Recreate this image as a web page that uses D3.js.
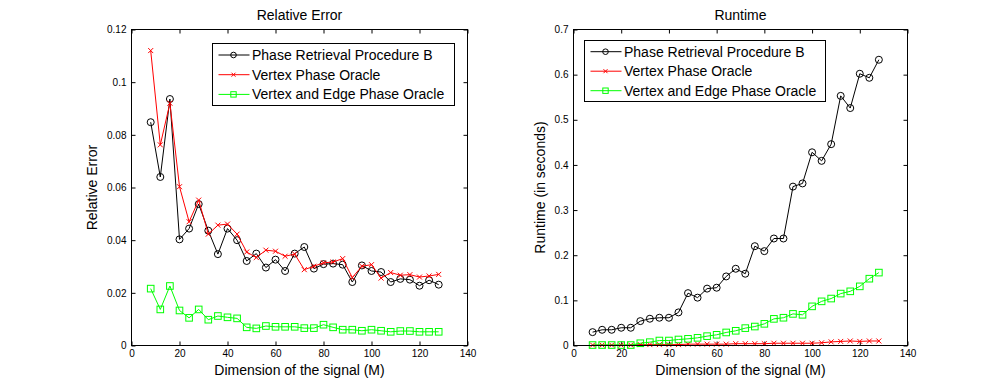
<!DOCTYPE html>
<html>
<head>
<meta charset="utf-8">
<script src="https://cdn.jsdelivr.net/npm/d3@7"></script>
<style>
  html, body { margin: 0; padding: 0; background: #fff; }
  svg { display: block; }
  text { font-family: "Liberation Sans", Arial, Helvetica, sans-serif; fill: #000; }
</style>
</head>
<body>
<svg id="chart" width="1004" height="388"></svg>
<script>
// ---- data ----
const dims = [8,12,16,20,24,28,32,36,40,44,48,52,56,60,64,68,72,76,80,84,88,92,96,100,104,108,112,116,120,124,128];

const seriesNames = ["Phase Retrieval Procedure B", "Vertex Phase Oracle", "Vertex and Edge Phase Oracle"];

const errProcB = [0.0848,0.064,0.0936,0.0403,0.0444,0.0537,0.0436,0.0347,0.0444,0.040,0.0321,0.0349,0.0296,0.0326,0.0283,0.0349,0.0374,0.0292,0.0309,0.0311,0.0307,0.0241,0.0304,0.0283,0.0279,0.0241,0.0253,0.025,0.0227,0.0248,0.0231];
const errVertex = [0.112,0.0762,0.092,0.0603,0.047,0.0552,0.0423,0.0457,0.0461,0.0423,0.0355,0.0334,0.0362,0.0358,0.0339,0.0347,0.0288,0.0301,0.0314,0.0317,0.033,0.0258,0.0301,0.0307,0.0256,0.0277,0.0267,0.0269,0.026,0.0264,0.027];
const errVertexEdge = [0.0216,0.0137,0.0226,0.0133,0.0105,0.0137,0.0098,0.0112,0.0107,0.0103,0.0069,0.0065,0.0074,0.0071,0.0071,0.0071,0.0066,0.0066,0.0079,0.0069,0.006,0.006,0.0056,0.006,0.0056,0.0052,0.0055,0.0055,0.0052,0.0052,0.0052];

const timeProcB = [0.0296,0.0348,0.0348,0.0393,0.0393,0.054,0.0593,0.0615,0.0615,0.0733,0.116,0.106,0.126,0.128,0.153,0.170,0.159,0.22,0.209,0.237,0.237,0.352,0.359,0.428,0.409,0.446,0.553,0.526,0.602,0.593,0.633];
const timeVertex = [0.001,0.001,0.001,0.001,0.001,0.002,0.002,0.002,0.002,0.002,0.003,0.003,0.003,0.003,0.003,0.004,0.004,0.004,0.004,0.005,0.005,0.005,0.005,0.005,0.006,0.008,0.009,0.010,0.009,0.010,0.010];
const timeVertexEdge = [0.001,0.001,0.001,0.001,0.001,0.005,0.0074,0.011,0.011,0.0133,0.0148,0.017,0.0207,0.0237,0.0289,0.0326,0.0385,0.042,0.048,0.059,0.0615,0.070,0.068,0.0867,0.0978,0.104,0.115,0.12,0.131,0.148,0.1615];

const xTicks = [0,20,40,60,80,100,120,140];
const errTicks = [0,0.02,0.04,0.06,0.08,0.1,0.12];
const errTickLabels = ["0","0.02","0.04","0.06","0.08","0.1","0.12"];
const timeTicks = [0,0.1,0.2,0.3,0.4,0.5,0.6,0.7];
const timeTickLabels = ["0","0.1","0.2","0.3","0.4","0.5","0.6","0.7"];

// ---- drawing ----
const svg = d3.select("#chart");
const colors = ["#000000", "#ff0000", "#00ff00"];
const markers = ["circle", "x", "square"];

function drawMarker(g, type, x, y, color, s) {
  if (type === "circle") {
    g.append("circle").attr("cx", x).attr("cy", y).attr("r", s)
      .attr("fill", "none").attr("stroke", color).attr("stroke-width", 1);
  } else if (type === "x") {
    g.append("path")
      .attr("d", `M${x - s},${y - s}L${x + s},${y + s}M${x - s},${y + s}L${x + s},${y - s}`)
      .attr("stroke", color).attr("stroke-width", 1).attr("fill", "none");
  } else {
    g.append("rect").attr("x", x - s).attr("y", y - s).attr("width", 2 * s).attr("height", 2 * s)
      .attr("fill", "none").attr("stroke", color).attr("stroke-width", 1);
  }
}

function panel(opts) {
  const { left, right, top, bottom, yMax, yTicks, yLabels, series, title, ylabel, legend } = opts;
  const x = d3.scaleLinear().domain([0, 140]).range([left, right]);
  const y = d3.scaleLinear().domain([0, yMax]).range([bottom, top]);
  const g = svg.append("g");

  // axes box
  g.append("rect").attr("x", left).attr("y", top).attr("width", right - left).attr("height", bottom - top)
    .attr("fill", "#fff").attr("stroke", "none");

  const tl = 4;
  const axB = d3.axisBottom(x).tickValues(xTicks).tickSize(-tl).tickPadding(4).tickFormat(d3.format("d"));
  const axT = d3.axisTop(x).tickValues(xTicks).tickSize(-tl).tickFormat("");
  const axL = d3.axisLeft(y).tickValues(yTicks).tickSize(-tl).tickPadding(5)
    .tickFormat((d, i) => yLabels[i]);
  const axR = d3.axisRight(y).tickValues(yTicks).tickSize(-tl).tickFormat("");

  const styleAxis = sel => {
    sel.select(".domain").remove();
    sel.selectAll("line").attr("stroke", "#000");
    sel.selectAll("text").attr("font-size", "10px").attr("fill", "#000")
      .attr("font-family", '"Liberation Sans", Arial, sans-serif');
  };
  g.append("g").attr("transform", `translate(0,${bottom})`).call(axB).call(styleAxis);
  g.append("g").attr("transform", `translate(0,${top})`).call(axT).call(styleAxis);
  g.append("g").attr("transform", `translate(${left},0)`).call(axL).call(styleAxis);
  g.append("g").attr("transform", `translate(${right},0)`).call(axR).call(styleAxis);

  // series
  const line = d3.line().x((d, i) => x(dims[i])).y(d => y(d));
  series.forEach((vals, si) => {
    const sg = g.append("g");
    sg.append("path").attr("d", line(vals)).attr("fill", "none")
      .attr("stroke", colors[si]).attr("stroke-width", 1);
    const msize = markers[si] === "circle" ? 3.5 : (markers[si] === "x" ? 2.5 : 3.3);
    vals.forEach((v, i) => drawMarker(sg, markers[si], x(dims[i]), y(v), colors[si], msize));
  });

  // frame
  g.append("rect").attr("x", left).attr("y", top).attr("width", right - left).attr("height", bottom - top)
    .attr("fill", "none").attr("stroke", "#000").attr("stroke-width", 1);

  // title & labels
  const cx = (left + right) / 2;
  g.append("text").attr("x", cx).attr("y", 20).attr("text-anchor", "middle")
    .attr("font-size", "14px").text(title);
  g.append("text").attr("x", cx).attr("y", 375).attr("text-anchor", "middle")
    .attr("font-size", "14px").text("Dimension of the signal (M)");
  g.append("text").attr("transform", `translate(${opts.ylabelX},${(top + bottom) / 2}) rotate(-90)`)
    .attr("text-anchor", "middle").attr("font-size", "14px").text(ylabel);

  // legend
  const lg = g.append("g");
  lg.append("rect").attr("x", legend.x).attr("y", legend.y).attr("width", legend.w).attr("height", legend.h)
    .attr("fill", "#fff").attr("stroke", "#000").attr("stroke-width", 1);
  seriesNames.forEach((name, si) => {
    const ly = legend.y + legend.firstRow + si * legend.rowGap;
    lg.append("line").attr("x1", legend.x + 6).attr("x2", legend.x + 37).attr("y1", ly).attr("y2", ly)
      .attr("stroke", colors[si]).attr("stroke-width", 1);
    const ms = markers[si] === "circle" ? 2.8 : (markers[si] === "x" ? 2 : 2.7);
    drawMarker(lg, markers[si], legend.x + 21, ly, colors[si], ms);
    lg.append("text").attr("x", legend.x + 39.5).attr("y", ly + 5).attr("font-size", "14px").text(name);
  });
}

panel({
  left: 131.5, right: 467.5, top: 29.5, bottom: 345.5, yMax: 0.12,
  yTicks: errTicks, yLabels: errTickLabels,
  series: [errProcB, errVertex, errVertexEdge],
  title: "Relative Error", ylabel: "Relative Error", ylabelX: 97,
  legend: { x: 212.5, y: 43.5, w: 242, h: 62, firstRow: 11.5, rowGap: 19.7 }
});

panel({
  left: 573.5, right: 907.5, top: 29.5, bottom: 345.5, yMax: 0.7,
  yTicks: timeTicks, yLabels: timeTickLabels,
  series: [timeProcB, timeVertex, timeVertexEdge],
  title: "Runtime", ylabel: "Runtime (in seconds)", ylabelX: 545,
  legend: { x: 584.5, y: 40.5, w: 241, h: 61, firstRow: 11.2, rowGap: 19.5 }
});
</script>
</body>
</html>
